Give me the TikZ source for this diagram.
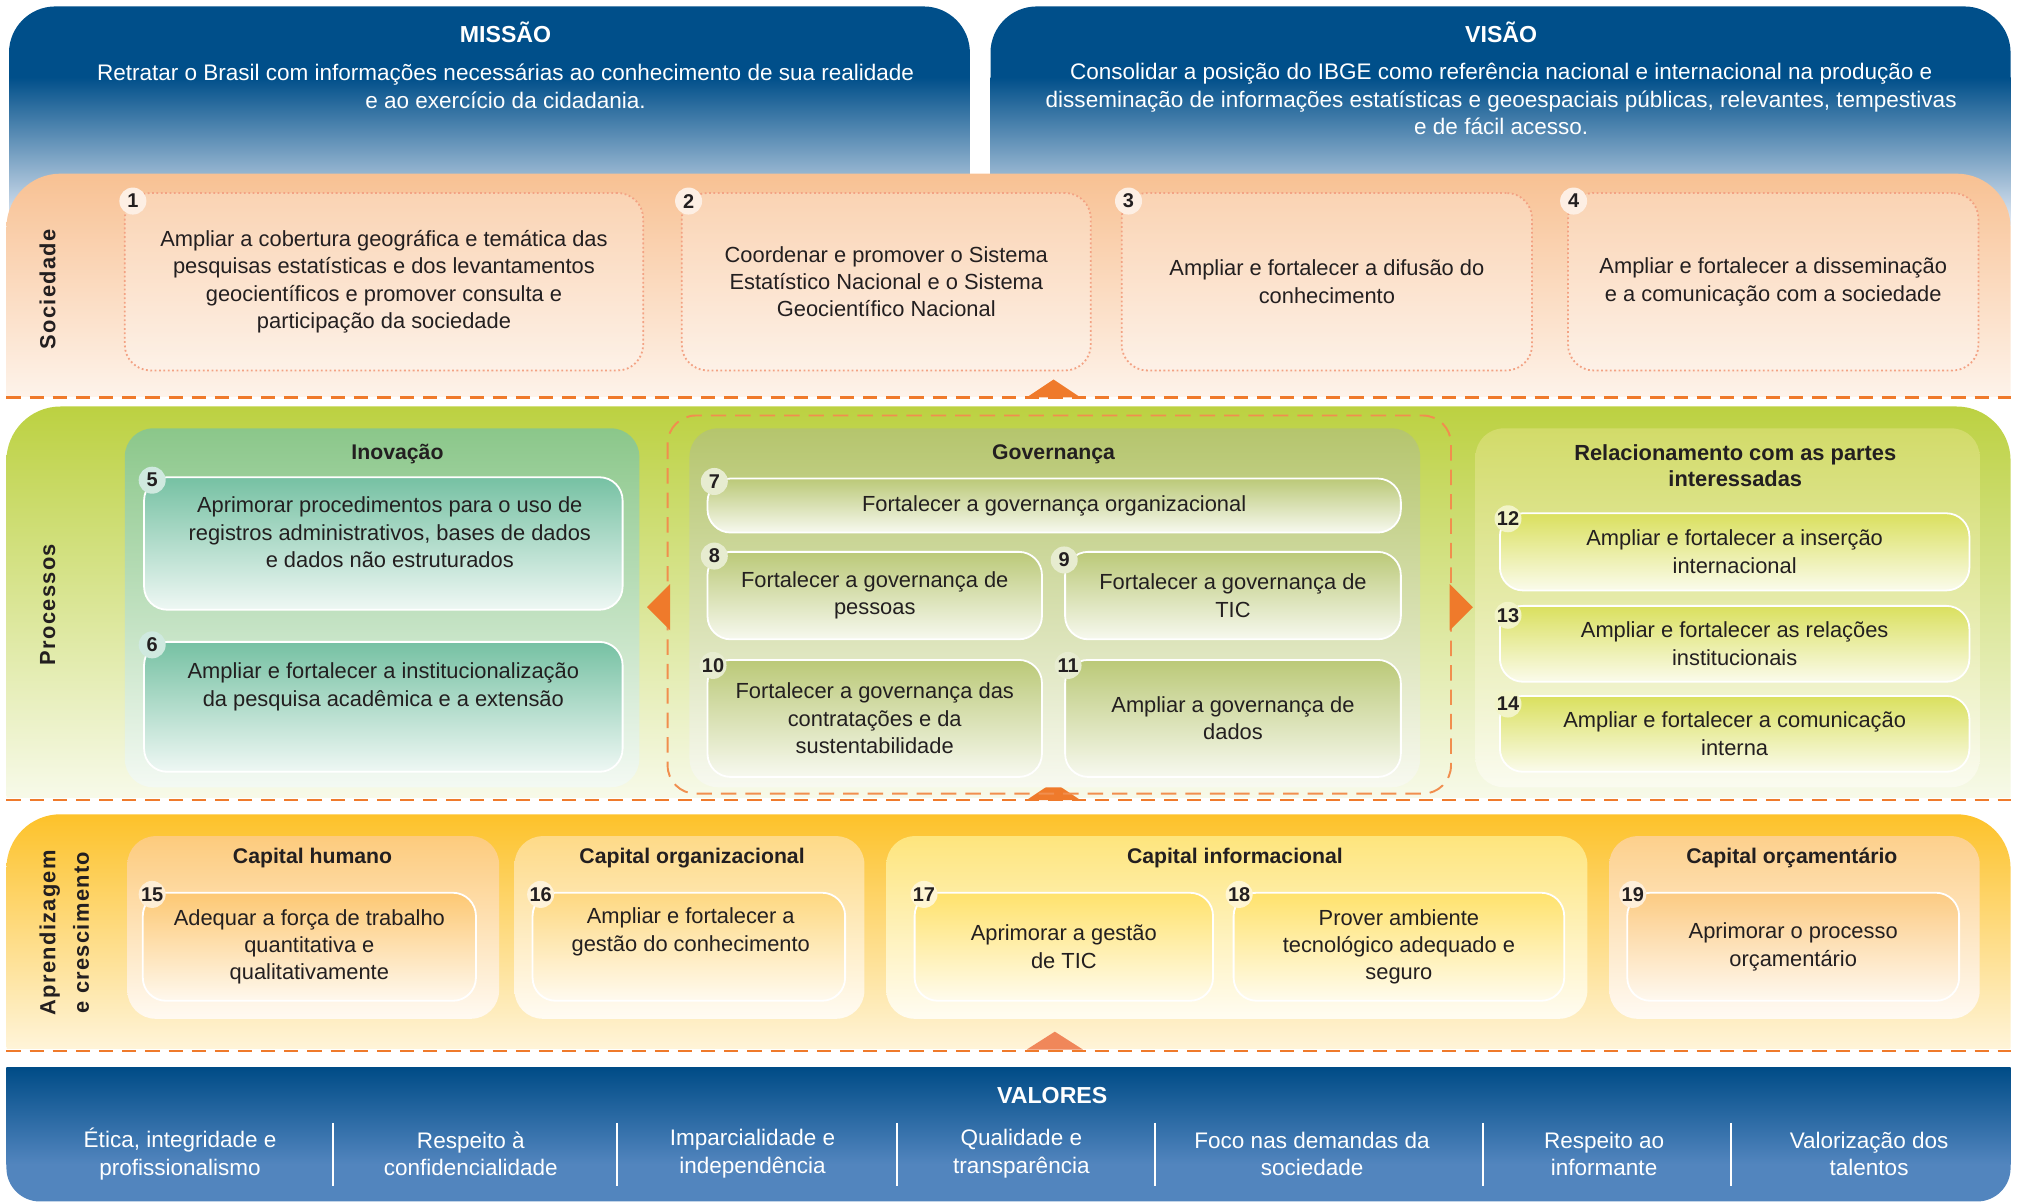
\documentclass[tikz,border=0pt]{standalone}
\usepackage{fontspec}
\setmainfont{Liberation Sans}
\newfontfamily\bandfont[LetterSpace=6]{Liberation Sans}
\usepackage{xcolor}
\usetikzlibrary{positioning}

\definecolor{ink}{HTML}{231F20}
\definecolor{blueTop}{HTML}{004F8A}
\definecolor{blueMid}{HTML}{6F95C4}
\definecolor{blueLow}{HTML}{E6ECF6}
\definecolor{socTop}{HTML}{F8C193}
\definecolor{socMid}{HTML}{FDE3CC}
\definecolor{socDot}{HTML}{F3A283}
\definecolor{procTop}{HTML}{BCD141}
\definecolor{procMid}{HTML}{E2E9B2}
\definecolor{aprTop}{HTML}{FDC22A}
\definecolor{aprMid}{HTML}{FEE8AE}
\definecolor{valTop}{HTML}{004C87}
\definecolor{valLow}{HTML}{5285BE}
\definecolor{lineOrange}{HTML}{EF7A2B}
\definecolor{lightOrange}{HTML}{F0875A}
\definecolor{govDash}{HTML}{F18E4E}
\definecolor{inovPanel}{HTML}{8BC78A}
\definecolor{inovBox}{HTML}{76C1A3}
\definecolor{govPanel}{HTML}{B5C56D}
\definecolor{govBox}{HTML}{BBC978}
\definecolor{relPanel}{HTML}{D2DB69}
\definecolor{relBox}{HTML}{DAE05E}
\definecolor{humPanel}{HTML}{FDCB7D}
\definecolor{humBox}{HTML}{FDC873}
\definecolor{orgPanel}{HTML}{FEDA88}
\definecolor{orgBox}{HTML}{FED880}
\definecolor{infPanel}{HTML}{FEE57D}
\definecolor{infBox}{HTML}{FFE26C}
\definecolor{orcPanel}{HTML}{FDD08C}
\definecolor{orcBox}{HTML}{FCCB83}

\newcommand{\boxfont}{\fontsize{17}{21.3}\selectfont}
\newcommand{\headfont}{\bfseries\fontsize{16.5}{20}\selectfont}

\begin{document}
\begin{tikzpicture}[x=1pt, y=-1pt,
  every node/.style={text=ink, align=center, inner sep=0pt},
  bandlabel/.style={rotate=90, font=\bandfont\bfseries\fontsize{17}{26}\selectfont},
  head/.style={font=\headfont},
  whitehead/.style={text=white, font=\bfseries\fontsize{18}{20}\selectfont},
  whitetext/.style={text=white, font=\fontsize{17.5}{21.5}\selectfont},
  panel/.style={rounded corners=22, top color=#1, bottom color=white!90!#1},
  sbox/.style={draw=socDot, dotted, line width=1.4, rounded corners=20, fill=white, fill opacity=0.25, text opacity=1, font=\boxfont},
  gbox/.style={draw=white, line width=1.4, rounded corners=18, top color=#1, bottom color=white!88!#1, font=\boxfont},
  badge/.style={circle, minimum size=21, fill=#1, font=\bfseries\fontsize{15.5}{15.5}\selectfont},
  dashline/.style={draw=lineOrange, line width=2, dash pattern=on 11 off 7}
]
\useasboundingbox (0,0) rectangle (1568,934);

% Missao and Visao
\fill[blueTop, rounded corners=36] (7,5) rectangle (754,120);
\shade[top color=blueTop, middle color=blueMid, bottom color=blueLow] (7,60) rectangle (754,175);
\fill[blueTop, rounded corners=36] (770,5) rectangle (1563,120);
\shade[top color=blueTop, middle color=blueMid, bottom color=blueLow] (770,60) rectangle (1563,175);
\node[whitehead] (missao) at (393,25) {MISSÃO};
\node[whitetext] (missaotxt) at (393,67) {Retratar o Brasil com informações necessárias ao conhecimento de sua realidade\\e ao exercício da cidadania.};
\node[whitehead] (visao) at (1167,25) {VISÃO};
\node[whitetext] (visaotxt) at (1167,77) {Consolidar a posição do IBGE como referência nacional e internacional na produção e\\disseminação de informações estatísticas e geoespaciais públicas, relevantes, tempestivas\\e de fácil acesso.};

% Bands
\begin{scope}
  \clip (0,100) rectangle (1568,308);
  \shade[rounded corners=42, top color=socTop, middle color=socMid, bottom color=white] (5,135) rectangle (1563,350);
\end{scope}
\begin{scope}
  \clip (0,310) rectangle (1568,620);
  \shade[rounded corners=42, top color=procTop, middle color=procMid, bottom color=white] (5,316) rectangle (1563,660);
\end{scope}
\begin{scope}
  \clip (0,625) rectangle (1568,815);
  \shade[rounded corners=42, top color=aprTop, middle color=aprMid, bottom color=white] (5,633) rectangle (1563,855);
\end{scope}
\fill[valLow, rounded corners=26] (5,860) rectangle (1563,934);
\shade[top color=valTop, bottom color=valLow] (5,830) rectangle (1563,905);

\draw[dashline] (5,309) -- (1563,309);
\draw[dashline] (5,622) -- (1563,622);
\draw[dashline] (5,817) -- (1563,817);
\fill[lineOrange] (798,309) -- (819,295) -- (840,309) -- cycle;
\fill[lineOrange] (798,622) -- (819,608) -- (840,622) -- cycle;
\fill[lightOrange] (798,816) -- (820,802) -- (842,816) -- cycle;

\node[bandlabel] (soc) at (37,225) {Sociedade};
\node[bandlabel] (proc) at (37,470) {Processos};
\node[bandlabel] (apr) at (50,725) {Aprendizagem\\e crescimento};

% Sociedade
\node[sbox, minimum width=403, minimum height=138] (o1) at (298.5,219) {Ampliar a cobertura geográfica e temática das\\pesquisas estatísticas e dos levantamentos\\geocientíficos e promover consulta e\\participação da sociedade};
\node[sbox, minimum width=318, minimum height=138] (o2) at (689,219) {Coordenar e promover o Sistema\\Estatístico Nacional e o Sistema\\Geocientífico Nacional};
\node[sbox, minimum width=319, minimum height=138] (o3) at (1031.5,219) {Ampliar e fortalecer a difusão do\\conhecimento};
\node[sbox, minimum width=319, minimum height=138] (o4) at (1378.5,219) {Ampliar e fortalecer a disseminação\\e a comunicação com a sociedade};
\node[badge=white!75!socTop] (b1) at ([xshift=7, yshift=-7]o1.north west) {1};
\node[badge=white!75!socTop] (b2) at ([xshift=6, yshift=-7]o2.north west) {2};
\node[badge=white!75!socTop] (b3) at ([xshift=6, yshift=-7]o3.north west) {3};
\node[badge=white!75!socTop] (b4) at ([xshift=5, yshift=-7]o4.north west) {4};

% Processos
\node[panel=inovPanel, minimum width=400, minimum height=279] (inov) at (297,472.5) {};
\draw[govDash, line width=1.5, dash pattern=on 12 off 7, rounded corners=22] (519,323) rectangle (1128,617);
\node[panel=govPanel, minimum width=568, minimum height=279] (gov) at (820,472.5) {};
\node[panel=relPanel, minimum width=392, minimum height=279] (rel) at (1343,472.5) {};
\fill[lineOrange] (521,454) -- (503,472) -- (521,490) -- cycle;
\fill[lineOrange] (1127,454) -- (1145,472) -- (1127,490) -- cycle;

\node[head] (inovtitle) at (309,353) {Inovação};
\node[gbox=inovBox, minimum width=372, minimum height=103] (o5) at (298,422.5) {};
\node[font=\boxfont] (t5) at (303,414) {Aprimorar procedimentos para o uso de\\registros administrativos, bases de dados\\e dados não estruturados};
\node[gbox=inovBox, minimum width=372, minimum height=101] (o6) at (298,549.5) {};
\node[font=\boxfont] (t6) at (298,534) {Ampliar e fortalecer a institucionalização\\da pesquisa acadêmica e a extensão};
\node[badge=white!65!inovBox] (b5) at ([xshift=7, yshift=-3]o5.north west) {5};
\node[badge=white!65!inovBox] (b6) at ([xshift=7, yshift=-3]o6.north west) {6};

\node[head] (govtitle) at (819,353) {Governança};
\node[gbox=govBox, minimum width=539, minimum height=42] (o7) at (819.5,393) {Fortalecer a governança organizacional};
\node[gbox=govBox, minimum width=260, minimum height=68] (o8) at (680,463) {Fortalecer a governança de\\pessoas};
\node[gbox=govBox, minimum width=261, minimum height=68] (o9) at (958.5,463) {Fortalecer a governança de\\TIC};
\node[gbox=govBox, minimum width=260, minimum height=91] (o10) at (680,558.5) {Fortalecer a governança das\\contratações e da\\sustentabilidade};
\node[gbox=govBox, minimum width=261, minimum height=91] (o11) at (958.5,558.5) {Ampliar a governança de\\dados};
\node[badge=white!65!govBox] (b7) at ([xshift=6, yshift=-3]o7.north west) {7};
\node[badge=white!65!govBox] (b8) at ([xshift=6, yshift=-4]o8.north west) {8};
\node[badge=white!65!govBox] (b9) at ([xshift=0, yshift=-7]o9.north west) {9};
\node[badge=white!65!govBox] (b10) at ([xshift=5, yshift=-5]o10.north west) {10};
\node[badge=white!65!govBox] (b11) at ([xshift=3, yshift=-5]o11.north west) {11};

\node[font=\bfseries\fontsize{17}{20}\selectfont] (reltitle) at (1349,362) {Relacionamento com as partes\\interessadas};
\node[gbox=relBox, minimum width=365, minimum height=60] (o12) at (1348.5,429) {Ampliar e fortalecer a inserção\\internacional};
\node[gbox=relBox, minimum width=365, minimum height=59] (o13) at (1348.5,500.5) {Ampliar e fortalecer as relações\\institucionais};
\node[gbox=relBox, minimum width=365, minimum height=59] (o14) at (1348.5,570.5) {Ampliar e fortalecer a comunicação\\interna};
\node[badge=white!65!relBox] (b12) at ([xshift=7, yshift=-5]o12.north west) {12};
\node[badge=white!65!relBox] (b13) at ([xshift=7, yshift=-8]o13.north west) {13};
\node[badge=white!65!relBox] (b14) at ([xshift=7, yshift=-7]o14.north west) {14};

% Aprendizagem e crescimento
\node[panel=humPanel, minimum width=289, minimum height=142] (hum) at (243.5,721) {};
\node[panel=orgPanel, minimum width=272, minimum height=142] (org) at (536,721) {};
\node[panel=infPanel, minimum width=545, minimum height=142] (inf) at (961.5,721) {};
\node[panel=orcPanel, minimum width=288, minimum height=142] (orc) at (1395,721) {};
\node[head] (humtitle) at (243,667) {Capital humano};
\node[head] (orgtitle) at (538,667) {Capital organizacional};
\node[head] (inftitle) at (960,667) {Capital informacional};
\node[head] (orctitle) at (1393,667) {Capital orçamentário};

\node[gbox=humBox, minimum width=259, minimum height=84] (o15) at (240.5,736) {Adequar a força de trabalho\\quantitativa e\\qualitativamente};
\node[gbox=orgBox, minimum width=243, minimum height=84] (o16) at (535.5,736) {};
\node[font=\boxfont] (t16) at (537,724.5) {Ampliar e fortalecer a\\gestão do conhecimento};
\node[gbox=infBox, minimum width=232, minimum height=84] (o17) at (827,736) {Aprimorar a gestão\\de TIC};
\node[gbox=infBox, minimum width=257, minimum height=84] (o18) at (1087.5,736) {Prover ambiente\\tecnológico adequado e\\seguro};
\node[gbox=orcBox, minimum width=258, minimum height=84] (o19) at (1394,736) {Aprimorar o processo\\orçamentário};
\node[badge=white!70!humBox] (b15) at ([xshift=8, yshift=-2]o15.north west) {15};
\node[badge=white!70!orgBox] (b16) at ([xshift=7, yshift=-2]o16.north west) {16};
\node[badge=white!70!infBox] (b17) at ([xshift=8, yshift=-2]o17.north west) {17};
\node[badge=white!70!infBox] (b18) at ([xshift=5, yshift=-2]o18.north west) {18};
\node[badge=white!70!orcBox] (b19) at ([xshift=5, yshift=-2]o19.north west) {19};

% Valores
\node[whitehead] (valores) at (818,852) {VALORES};
\foreach \sx in {259,480,697,898,1153,1346}
  \draw[white, line width=1.6] (\sx,873) -- (\sx,922);
\node[whitetext] (v1) at (140,897) {Ética, integridade e\\profissionalismo};
\node[whitetext] (v2) at (366,897) {Respeito à\\confidencialidade};
\node[whitetext] (v3) at (585,897) {Imparcialidade e\\independência};
\node[whitetext] (v4) at (794,897) {Qualidade e\\transparência};
\node[whitetext] (v5) at (1020,897) {Foco nas demandas da\\sociedade};
\node[whitetext] (v6) at (1247,897) {Respeito ao\\informante};
\node[whitetext] (v7) at (1453,897) {Valorização dos\\talentos};
\end{tikzpicture}
\end{document}
